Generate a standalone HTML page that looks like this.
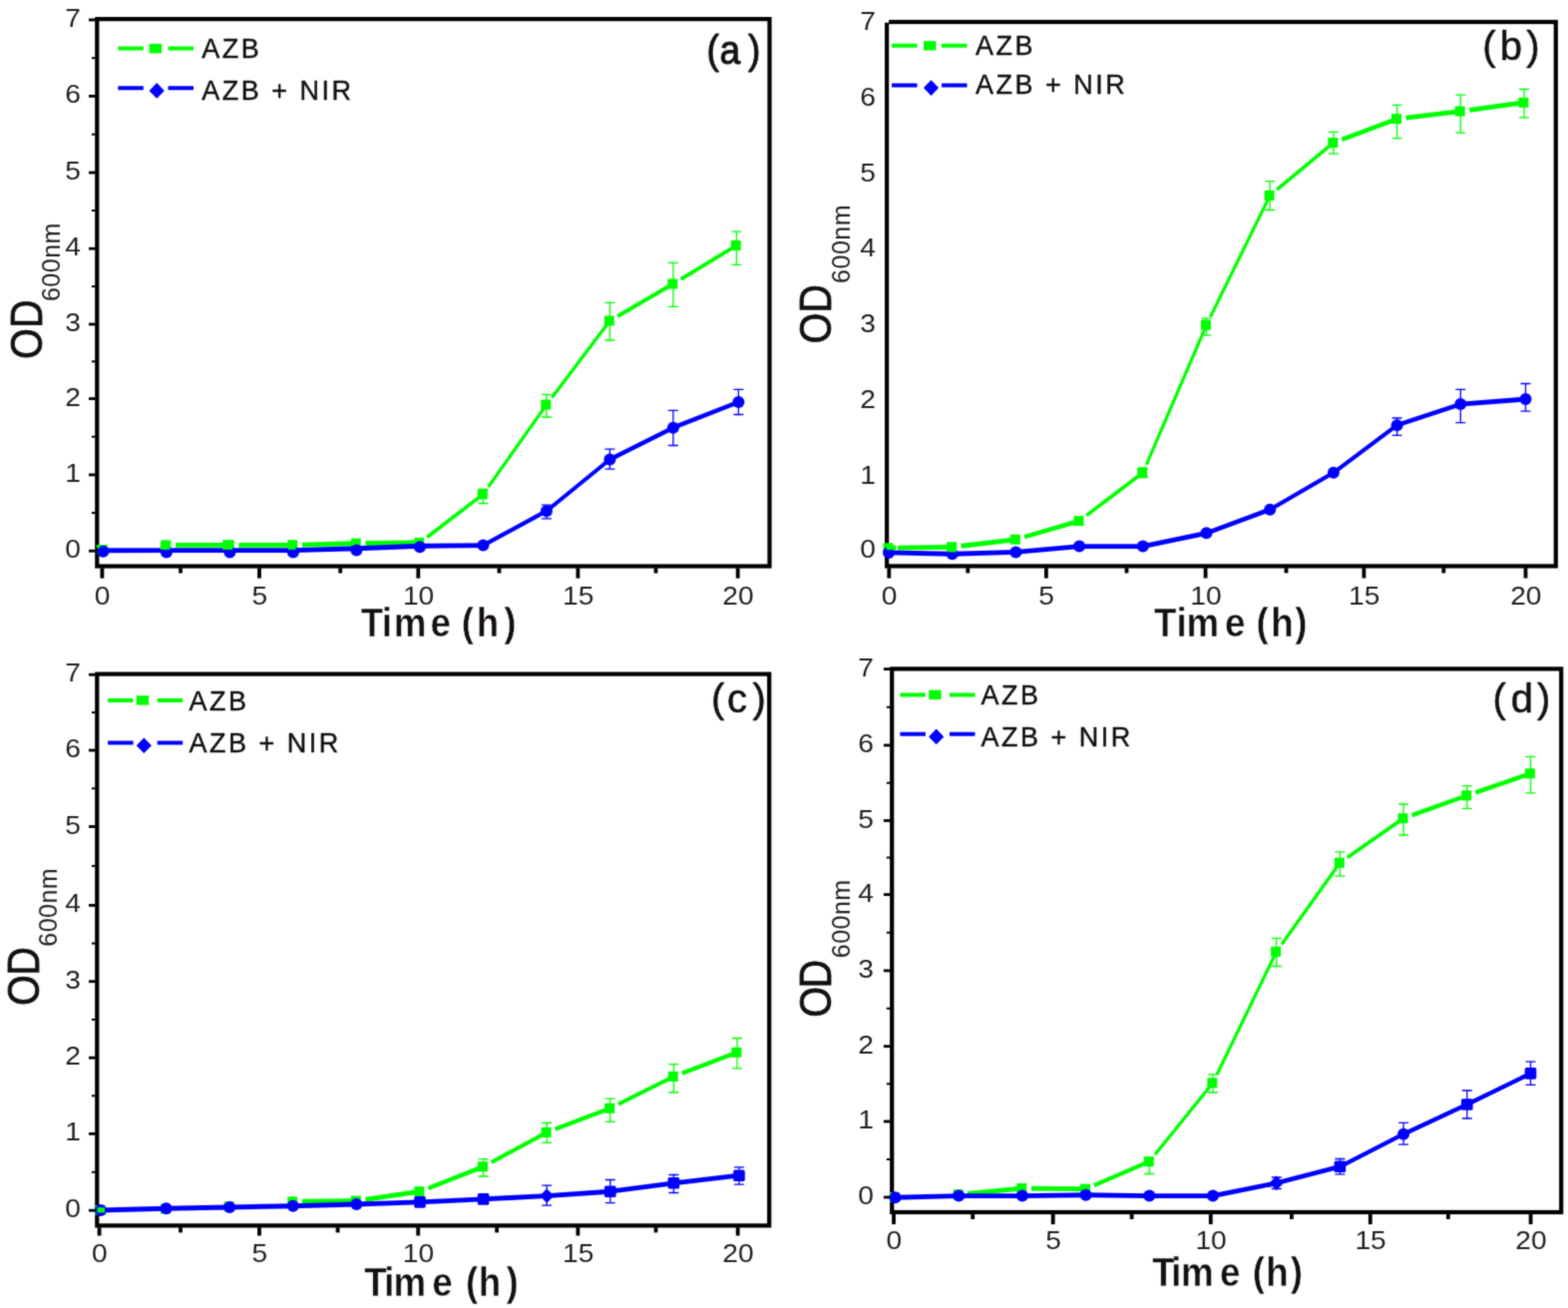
<!DOCTYPE html>
<html lang="en"><head><meta charset="utf-8">
<title>Growth curves: AZB vs AZB + NIR</title>
<style>
html,body{margin:0;padding:0;background:#fff;}
body{width:1572px;height:1311px;overflow:hidden;}
svg{display:block;font-family:"Liberation Sans", sans-serif;}
</style></head><body>
<svg width="1572" height="1311" viewBox="0 0 1572 1311" role="img" aria-label="Growth curves (OD600nm versus time) for AZB and AZB + NIR, panels a to d">
<defs><filter id="soft" x="0" y="0" width="1572" height="1311" filterUnits="userSpaceOnUse" color-interpolation-filters="sRGB"><feConvolveMatrix order="3" kernelMatrix="0.0625 0.25 0.0625 0.25 1 0.25 0.0625 0.25 0.0625" divisor="2.25" edgeMode="duplicate" preserveAlpha="true"/></filter></defs>
<g filter="url(#soft)">
<rect width="1572" height="1311" fill="#fff"/>
<g id="panel-a">
<rect class="frame" x="97.3" y="19.1" width="674.2" height="548.4" fill="none" stroke="#000" stroke-width="4.2"/>
<g class="series-g" stroke="#00ff00" fill="#00ff00">
<path d="M484.4 490.3V504.5M479.4 490.3H489.4M479.4 504.5H489.4M547.9 395.4V418M542.9 395.4H552.9M542.9 418H552.9M611.4 303.3V341M606.4 303.3H616.4M606.4 341H616.4M674.9 263.3V307.4M669.9 263.3H679.9M669.9 307.4H679.9M738.4 232.1V265.4M733.4 232.1H743.4M733.4 265.4H743.4" fill="none" stroke-width="1.3"/>
<path d="M175.9 546.4L225.4 546.4" fill="none" stroke-width="4.9"/>
<path d="M239.4 546.4L288.9 546.4" fill="none" stroke-width="4.9"/>
<path d="M302.9 546.14L352.4 544.74" fill="none" stroke-width="4.9"/>
<path d="M366.4 544.5L415.9 543.96" fill="none" stroke-width="4.9"/>
<path d="M428.05 538.44L480.43 498.43" fill="none" stroke-width="3.63"/>
<path d="M489.6 488.05L545.01 409.68" fill="none" stroke-width="3.26"/>
<path d="M553.32 398.42L608.39 325.49" fill="none" stroke-width="3.28"/>
<path d="M619.18 316.97L670.58 287.02" fill="none" stroke-width="3.91"/>
<path d="M682.6 279.83L734.12 248.59" fill="none" stroke-width="3.86"/>
<rect x="97.8" y="546" width="10" height="10" stroke="none"/>
<rect x="161.3" y="541.4" width="10" height="10" stroke="none"/>
<rect x="224.8" y="541.4" width="10" height="10" stroke="none"/>
<rect x="288.3" y="541.4" width="10" height="10" stroke="none"/>
<rect x="351.8" y="539.6" width="10" height="10" stroke="none"/>
<rect x="415.3" y="538.9" width="10" height="10" stroke="none"/>
<rect x="478.8" y="490.4" width="10" height="10" stroke="none"/>
<rect x="542.3" y="400.6" width="10" height="10" stroke="none"/>
<rect x="605.8" y="316.5" width="10" height="10" stroke="none"/>
<rect x="669.3" y="279.5" width="10" height="10" stroke="none"/>
<rect x="732.8" y="241" width="10" height="10" stroke="none"/>
</g>
<g class="series-b" stroke="#0000ff" fill="#0000ff">
<path d="M547.9 506.1V519.8M542.9 506.1H552.9M542.9 519.8H552.9M611.4 450.1V470.2M606.4 450.1H616.4M606.4 470.2H616.4M674.9 411.4V446.5M669.9 411.4H679.9M669.9 446.5H679.9M740.4 390.3V415.5M735.4 390.3H745.4M735.4 415.5H745.4" fill="none" stroke-width="1.3"/>
<path d="M103.4 551.8L166.9 551.6" fill="none" stroke-width="4.9"/>
<path d="M166.9 551.6L230.4 551.6" fill="none" stroke-width="4.9"/>
<path d="M230.4 551.6L293.9 551.6" fill="none" stroke-width="4.9"/>
<path d="M293.9 551.6L357.4 549.8" fill="none" stroke-width="4.9"/>
<path d="M357.4 549.8L420.9 547.2" fill="none" stroke-width="4.89"/>
<path d="M420.9 547.2L484.4 546.6" fill="none" stroke-width="4.9"/>
<path d="M484.4 546.6L547.9 512.2" fill="none" stroke-width="4.25"/>
<path d="M547.9 512.2L611.4 460.5" fill="none" stroke-width="3.96"/>
<path d="M611.4 460.5L674.9 428.7" fill="none" stroke-width="4.31"/>
<path d="M674.9 428.7L740.4 403" fill="none" stroke-width="4.48"/>
<circle cx="103.4" cy="552.8" r="6" stroke="none"/>
<circle cx="166.9" cy="553.6" r="6" stroke="none"/>
<circle cx="230.4" cy="553.6" r="6" stroke="none"/>
<circle cx="293.9" cy="553.6" r="6" stroke="none"/>
<circle cx="357.4" cy="551.6" r="6" stroke="none"/>
<circle cx="420.9" cy="548.2" r="6" stroke="none"/>
<circle cx="484.4" cy="546.6" r="6" stroke="none"/>
<circle cx="547.9" cy="512.2" r="6" stroke="none"/>
<circle cx="611.4" cy="460.5" r="6" stroke="none"/>
<circle cx="674.9" cy="428.7" r="6" stroke="none"/>
<circle cx="740.4" cy="403" r="6" stroke="none"/>
</g>
<rect x="160.8" y="543.9" width="9.6" height="7" fill="#00ff00"/>
<rect x="223.2" y="541.3" width="10.1" height="9.6" fill="#00ff00"/>
<rect x="288.7" y="541.3" width="7.8" height="9.6" fill="#00ff00"/>
<rect x="96.9" y="546" width="3" height="3.2" fill="#00ff00"/>
<g class="ticks" fill="#000"><rect x="89" y="550.8" width="6.6" height="2.8"/><rect x="91.9" y="513.05" width="3.6" height="2"/><rect x="89" y="474.5" width="6.6" height="2.8"/><rect x="91.9" y="436.75" width="3.6" height="2"/><rect x="89" y="398.2" width="6.6" height="2.8"/><rect x="91.9" y="361.3" width="3.6" height="2"/><rect x="89" y="323.6" width="6.6" height="2.8"/><rect x="91.9" y="286.1" width="3.6" height="2"/><rect x="89" y="247.8" width="6.6" height="2.8"/><rect x="91.9" y="210.1" width="3.6" height="2"/><rect x="89" y="171.6" width="6.6" height="2.8"/><rect x="91.9" y="133.7" width="3.6" height="2"/><rect x="89" y="95" width="6.6" height="2.8"/><rect x="91.9" y="57.15" width="3.6" height="2"/><rect x="89" y="18.5" width="6.6" height="2.8"/><rect x="100.5" y="569.3" width="3.8" height="10.3"/><rect x="179.1" y="569.3" width="3.8" height="5.2"/><rect x="258.1" y="569.3" width="3.8" height="10.3"/><rect x="339.3" y="569.3" width="3.8" height="5.2"/><rect x="417.4" y="569.3" width="3.8" height="10.3"/><rect x="498.6" y="569.3" width="3.8" height="5.2"/><rect x="577.5" y="569.3" width="3.8" height="10.3"/><rect x="655.6" y="569.3" width="3.8" height="5.2"/><rect x="737.8" y="569.3" width="3.8" height="10.3"/></g>
<g class="ticklabels" font-size="25.6" fill="#241d1d">
<text transform="translate(81 559.2) scale(1.1 1)" text-anchor="end">0</text>
<text transform="translate(81 482.9) scale(1.1 1)" text-anchor="end">1</text>
<text transform="translate(81 406.6) scale(1.1 1)" text-anchor="end">2</text>
<text transform="translate(81 332) scale(1.1 1)" text-anchor="end">3</text>
<text transform="translate(81 256.2) scale(1.1 1)" text-anchor="end">4</text>
<text transform="translate(81 180) scale(1.1 1)" text-anchor="end">5</text>
<text transform="translate(81 103.4) scale(1.1 1)" text-anchor="end">6</text>
<text transform="translate(81 26.9) scale(1.1 1)" text-anchor="end">7</text>
<text transform="translate(102.7 605.8) scale(1.1 1)" text-anchor="middle">0</text>
<text transform="translate(260.3 605.8) scale(1.1 1)" text-anchor="middle">5</text>
<text transform="translate(419.6 605.8) scale(1.1 1)" text-anchor="middle">10</text>
<text transform="translate(579.7 605.8) scale(1.1 1)" text-anchor="middle">15</text>
<text transform="translate(740 605.8) scale(1.1 1)" text-anchor="middle">20</text>
</g>
<text class="xtitle" transform="translate(361.78 638.2) scale(0.9 1)" x="0 23.21 36.75 77.41 100.11 112.18 128.8 159.45" font-size="40.8" fill="#141010" stroke="#fff" stroke-width="0.45" stroke-linejoin="miter" font-weight="bold">Time (h)</text>
<text class="ytitle" transform="translate(41.6 360.02) rotate(-90) scale(0.91 1)" x="0 33.97" font-size="43.6" fill="#141010" stroke="#141010" stroke-width="0.8" stroke-linejoin="round">OD</text>
<text class="ysub" transform="translate(59.9 302.07) rotate(-90)" font-size="25" letter-spacing="0.5" fill="#241d1d">600nm</text>
<text class="plabel" transform="translate(708.51 63.7) scale(0.93 1)" x="0 13.93 44.67" font-size="40" fill="#141010" stroke="#141010" stroke-width="1" stroke-linejoin="round">(a)</text>
<g class="legend" stroke-width="0.4">
<path d="M118.3 48.6H143.8M168.5 48.6H194" stroke="#00ff00" stroke-width="4" fill="none"/>
<rect x="149.7" y="43.9" width="12.4" height="9.4" fill="#00ff00"/>
<path d="M118.3 88.3H143.8M168.5 88.3H194" stroke="#0000ff" stroke-width="4" fill="none"/>
<path d="M149.6 90.9L157.2 83.1L164.8 90.9L157.2 98.7Z" fill="#0000ff"/>
<text x="202.3" y="57.8" font-size="27" letter-spacing="2.5" fill="#141010" stroke="#141010">AZB</text>
<text x="202.3" y="100.4" font-size="27" letter-spacing="2.5" fill="#141010" stroke="#141010">AZB + NIR</text>
</g>
</g>
<g id="panel-b">
<rect class="frame" x="889.1" y="22" width="670.7" height="545.4" fill="none" stroke="#000" stroke-width="4.2"/>
<rect x="886.4" y="19.3" width="4.7" height="3.4" fill="#fff"/>
<g class="series-g" stroke="#00ff00" fill="#00ff00">
<path d="M1145.8 469V478.5M1140.8 469H1150.8M1140.8 478.5H1150.8M1209.5 319.1V335.9M1204.5 319.1H1214.5M1204.5 335.9H1214.5M1273.2 181.7V210.5M1268.2 181.7H1278.2M1268.2 210.5H1278.2M1336.9 132.3V154.2M1331.9 132.3H1341.9M1331.9 154.2H1341.9M1400.6 105.3V138.7M1395.6 105.3H1405.6M1395.6 138.7H1405.6M1464.3 95.2V133.1M1459.3 95.2H1469.3M1459.3 133.1H1469.3M1528 89.5V117.8M1523 89.5H1533M1523 117.8H1533" fill="none" stroke-width="1.3"/>
<path d="M900 549.16L949.7 548.38" fill="none" stroke-width="4.9"/>
<path d="M963.64 547.23L1013.44 541.29" fill="none" stroke-width="4.83"/>
<path d="M1027.04 538.18L1077.3 523.5" fill="none" stroke-width="4.53"/>
<path d="M1089.27 516.66L1141.82 476.82" fill="none" stroke-width="3.64"/>
<path d="M1149.36 465.53L1207.52 330.29" fill="none" stroke-width="3.21"/>
<path d="M1213.47 317.62L1271 200.39" fill="none" stroke-width="3.21"/>
<path d="M1280.12 190.15L1333.05 146.19" fill="none" stroke-width="3.55"/>
<path d="M1345.33 139.84L1395.92 120.86" fill="none" stroke-width="4.35"/>
<path d="M1409.54 118.03L1459.34 112.09" fill="none" stroke-width="4.83"/>
<path d="M1473.22 110.28L1523.05 103.48" fill="none" stroke-width="4.81"/>
<rect x="885.4" y="544.3" width="10" height="10" stroke="none"/>
<rect x="949.1" y="543.3" width="10" height="10" stroke="none"/>
<rect x="1012.8" y="535.7" width="10" height="10" stroke="none"/>
<rect x="1076.5" y="517.1" width="10" height="10" stroke="none"/>
<rect x="1140.2" y="468.8" width="10" height="10" stroke="none"/>
<rect x="1203.9" y="320.7" width="10" height="10" stroke="none"/>
<rect x="1267.6" y="190.9" width="10" height="10" stroke="none"/>
<rect x="1331.3" y="138" width="10" height="10" stroke="none"/>
<rect x="1395" y="114.1" width="10" height="10" stroke="none"/>
<rect x="1458.7" y="106.5" width="10" height="10" stroke="none"/>
<rect x="1522.4" y="97.8" width="10" height="10" stroke="none"/>
</g>
<g class="series-b" stroke="#0000ff" fill="#0000ff">
<path d="M1400.6 419V436.4M1395.6 419H1405.6M1395.6 436.4H1405.6M1464.3 390.3V423.6M1459.3 390.3H1469.3M1459.3 423.6H1469.3M1529.5 384.5V412.2M1524.5 384.5H1534.5M1524.5 412.2H1534.5" fill="none" stroke-width="1.3"/>
<path d="M891 553.9L954.7 555.2" fill="none" stroke-width="4.9"/>
<path d="M954.7 555.2L1018.4 553.4" fill="none" stroke-width="4.9"/>
<path d="M1018.4 553.4L1082.1 547.6" fill="none" stroke-width="4.87"/>
<path d="M1082.1 547.6L1145.8 547.6" fill="none" stroke-width="4.9"/>
<path d="M1145.8 547.6L1209.5 534.3" fill="none" stroke-width="4.76"/>
<path d="M1209.5 534.3L1273.2 510.7" fill="none" stroke-width="4.52"/>
<path d="M1273.2 510.7L1336.9 473.8" fill="none" stroke-width="4.2"/>
<path d="M1336.9 473.8L1400.6 426.2" fill="none" stroke-width="4.02"/>
<path d="M1400.6 426.2L1464.3 405.1" fill="none" stroke-width="4.58"/>
<path d="M1464.3 405.1L1529.5 400" fill="none" stroke-width="4.88"/>
<circle cx="891" cy="553.9" r="6" stroke="none"/>
<circle cx="954.7" cy="555.2" r="6" stroke="none"/>
<circle cx="1018.4" cy="553.4" r="6" stroke="none"/>
<circle cx="1082.1" cy="547.6" r="6" stroke="none"/>
<circle cx="1145.8" cy="547.6" r="6" stroke="none"/>
<circle cx="1209.5" cy="534.3" r="6" stroke="none"/>
<circle cx="1273.2" cy="510.7" r="6" stroke="none"/>
<circle cx="1336.9" cy="473.8" r="6" stroke="none"/>
<circle cx="1400.6" cy="426.2" r="6" stroke="none"/>
<circle cx="1464.3" cy="405.1" r="6" stroke="none"/>
<circle cx="1529.5" cy="400" r="6" stroke="none"/>
</g>
<rect x="889" y="546.6" width="9.4" height="4.6" fill="#00ff00"/>
<rect x="949.5" y="543.9" width="9.5" height="9.5" fill="#00ff00"/>
<g class="ticks" fill="#000"><rect x="889.4" y="569.2" width="3.8" height="10.3"/><rect x="968.4" y="569.2" width="3.8" height="5.2"/><rect x="1047" y="569.2" width="3.8" height="10.3"/><rect x="1127.6" y="569.2" width="3.8" height="5.2"/><rect x="1206.7" y="569.2" width="3.8" height="10.3"/><rect x="1287.6" y="569.2" width="3.8" height="5.2"/><rect x="1365.5" y="569.2" width="3.8" height="10.3"/><rect x="1445.4" y="569.2" width="3.8" height="5.2"/><rect x="1527.6" y="569.2" width="3.8" height="10.3"/></g>
<g class="ticklabels" font-size="25.6" fill="#241d1d">
<text transform="translate(877.9 559.2) scale(1.1 1)" text-anchor="end">0</text>
<text transform="translate(877.9 485.4) scale(1.1 1)" text-anchor="end">1</text>
<text transform="translate(877.9 409.3) scale(1.1 1)" text-anchor="end">2</text>
<text transform="translate(877.9 333) scale(1.1 1)" text-anchor="end">3</text>
<text transform="translate(877.9 256.6) scale(1.1 1)" text-anchor="end">4</text>
<text transform="translate(877.9 182.1) scale(1.1 1)" text-anchor="end">5</text>
<text transform="translate(877.9 106.3) scale(1.1 1)" text-anchor="end">6</text>
<text transform="translate(877.9 30.3) scale(1.1 1)" text-anchor="end">7</text>
<text transform="translate(891.6 605.8) scale(1.1 1)" text-anchor="middle">0</text>
<text transform="translate(1049.2 605.8) scale(1.1 1)" text-anchor="middle">5</text>
<text transform="translate(1208.9 605.8) scale(1.1 1)" text-anchor="middle">10</text>
<text transform="translate(1367.7 605.8) scale(1.1 1)" text-anchor="middle">15</text>
<text transform="translate(1529.8 605.8) scale(1.1 1)" text-anchor="middle">20</text>
</g>
<text class="xtitle" transform="translate(1157.08 638.2) scale(0.9 1)" x="0 24.88 35.97 78.75 101.44 113.85 130.3 156.84" font-size="40.8" fill="#141010" stroke="#fff" stroke-width="0.45" stroke-linejoin="miter" font-weight="bold">Time (h)</text>
<text class="ytitle" transform="translate(833.1 344.62) rotate(-90) scale(0.91 1)" x="0 33.97" font-size="43.6" fill="#141010" stroke="#141010" stroke-width="0.8" stroke-linejoin="round">OD</text>
<text class="ysub" transform="translate(852 283.88) rotate(-90)" font-size="25" letter-spacing="0.5" fill="#241d1d">600nm</text>
<text class="plabel" transform="translate(1486.32 60.2) scale(1 1)" x="0 17.51 44.05" font-size="40" fill="#141010" stroke="#141010" stroke-width="0.5" stroke-linejoin="round">(b)</text>
<g class="legend" stroke-width="0.4">
<path d="M894 45.8H919.5M944 45.8H969.5" stroke="#00ff00" stroke-width="4" fill="none"/>
<rect x="926" y="41.1" width="12.4" height="9.4" fill="#00ff00"/>
<path d="M894 85.5H919.5M944 85.5H969.5" stroke="#0000ff" stroke-width="4" fill="none"/>
<path d="M925.9 88.1L933.5 80.3L941.1 88.1L933.5 95.9Z" fill="#0000ff"/>
<text x="978" y="55" font-size="27" letter-spacing="2.5" fill="#141010" stroke="#141010">AZB</text>
<text x="978" y="94" font-size="27" letter-spacing="2.5" fill="#141010" stroke="#141010">AZB + NIR</text>
</g>
</g>
<g id="panel-c">
<rect class="frame" x="97.3" y="675.6" width="673.9" height="552.8" fill="none" stroke="#000" stroke-width="4.2"/>
<g class="series-g" stroke="#00ff00" fill="#00ff00">
<path d="M484.6 1161.7V1179M479.6 1161.7H489.6M479.6 1179H489.6M548.2 1125.5V1145.4M543.2 1125.5H553.2M543.2 1145.4H553.2M611.8 1101.1V1124.3M606.8 1101.1H616.8M606.8 1124.3H616.8M675.4 1066.7V1095M670.4 1066.7H680.4M670.4 1095H680.4M739 1040.5V1070.8M734 1040.5H744M734 1070.8H744" fill="none" stroke-width="1.3"/>
<path d="M302.8 1204.29L352.4 1203.66" fill="none" stroke-width="4.9"/>
<path d="M366.3 1202.28L416.05 1194.93" fill="none" stroke-width="4.79"/>
<path d="M429.38 1190.92L479.94 1171.12" fill="none" stroke-width="4.31"/>
<path d="M492.52 1165.03L543.8 1137.37" fill="none" stroke-width="3.99"/>
<path d="M556.61 1131.8L607.13 1112.58" fill="none" stroke-width="4.33"/>
<path d="M619.85 1106.78L670.93 1081.24" fill="none" stroke-width="4.07"/>
<path d="M683.81 1075.8L734.33 1056.58" fill="none" stroke-width="4.33"/>
<rect x="95.4" y="1208" width="10" height="10" stroke="none"/>
<rect x="161" y="1206.6" width="10" height="10" stroke="none"/>
<rect x="224.6" y="1204.4" width="10" height="10" stroke="none"/>
<rect x="288.2" y="1199.4" width="10" height="10" stroke="none"/>
<rect x="351.8" y="1198.6" width="10" height="10" stroke="none"/>
<rect x="415.4" y="1189.2" width="10" height="10" stroke="none"/>
<rect x="479" y="1164.3" width="10" height="10" stroke="none"/>
<rect x="542.6" y="1130" width="10" height="10" stroke="none"/>
<rect x="606.2" y="1105.8" width="10" height="10" stroke="none"/>
<rect x="669.8" y="1074" width="10" height="10" stroke="none"/>
<rect x="733.4" y="1049.8" width="10" height="10" stroke="none"/>
</g>
<g class="series-b" stroke="#0000ff" fill="#0000ff">
<path d="M548.2 1188.1V1208.2M543.2 1188.1H553.2M543.2 1208.2H553.2M611.8 1182.5V1205.7M606.8 1182.5H616.8M606.8 1205.7H616.8M675.4 1177.5V1195.5M670.4 1177.5H680.4M670.4 1195.5H680.4M741 1169.8V1187.1M736 1169.8H746M736 1187.1H746" fill="none" stroke-width="1.3"/>
<path d="M101 1213L166.6 1211.3" fill="none" stroke-width="4.9"/>
<path d="M166.6 1211.3L230.2 1210" fill="none" stroke-width="4.9"/>
<path d="M230.2 1210L293.8 1208.7" fill="none" stroke-width="4.9"/>
<path d="M293.8 1208.7L357.4 1207" fill="none" stroke-width="4.9"/>
<path d="M357.4 1207L421 1204.9" fill="none" stroke-width="4.9"/>
<path d="M421 1204.9L484.6 1201.9" fill="none" stroke-width="4.89"/>
<path d="M484.6 1201.9L548.2 1198.6" fill="none" stroke-width="4.89"/>
<path d="M548.2 1198.6L611.8 1194.2" fill="none" stroke-width="4.88"/>
<path d="M611.8 1194.2L675.4 1185.8" fill="none" stroke-width="4.84"/>
<path d="M675.4 1185.8L741 1178.2" fill="none" stroke-width="4.85"/>
<circle cx="101" cy="1213" r="6" stroke="none"/>
<circle cx="166.6" cy="1211.3" r="6" stroke="none"/>
<circle cx="230.2" cy="1210" r="6" stroke="none"/>
<circle cx="293.8" cy="1208.7" r="6" stroke="none"/>
<circle cx="357.4" cy="1207" r="6" stroke="none"/>
<rect x="415.2" y="1199.1" width="11.6" height="11.6" rx="1.6" stroke="none"/>
<rect x="478.8" y="1196.1" width="11.6" height="11.6" rx="1.6" stroke="none"/>
<path d="M541 1198.6L548.2 1191.4L555.4 1198.6L548.2 1205.8Z" stroke="none"/>
<rect x="606" y="1188.4" width="11.6" height="11.6" rx="1.6" stroke="none"/>
<rect x="669.6" y="1180" width="11.6" height="11.6" rx="1.6" stroke="none"/>
<rect x="735.2" y="1172.4" width="11.6" height="11.6" rx="1.6" stroke="none"/>
</g>
<rect x="97.5" y="1210.2" width="7.5" height="5.2" fill="#00ff00"/>
<g class="ticks" fill="#000"><rect x="89" y="1211.8" width="6.6" height="2.8"/><rect x="91.9" y="1173.8" width="3.6" height="2"/><rect x="89" y="1135" width="6.6" height="2.8"/><rect x="91.9" y="1097.3" width="3.6" height="2"/><rect x="89" y="1058.8" width="6.6" height="2.8"/><rect x="91.9" y="1020.95" width="3.6" height="2"/><rect x="89" y="982.3" width="6.6" height="2.8"/><rect x="91.9" y="944.55" width="3.6" height="2"/><rect x="89" y="906" width="6.6" height="2.8"/><rect x="91.9" y="866.95" width="3.6" height="2"/><rect x="89" y="827.1" width="6.6" height="2.8"/><rect x="91.9" y="789.25" width="3.6" height="2"/><rect x="89" y="750.6" width="6.6" height="2.8"/><rect x="91.9" y="713.1" width="3.6" height="2"/><rect x="89" y="674.8" width="6.6" height="2.8"/><rect x="97.7" y="1230.2" width="3.8" height="8.3"/><rect x="179.1" y="1230.2" width="3.8" height="5.2"/><rect x="258.1" y="1230.2" width="3.8" height="8.3"/><rect x="336.7" y="1230.2" width="3.8" height="5.2"/><rect x="417.3" y="1230.2" width="3.8" height="8.3"/><rect x="496.2" y="1230.2" width="3.8" height="5.2"/><rect x="577.5" y="1230.2" width="3.8" height="8.3"/><rect x="655.6" y="1230.2" width="3.8" height="5.2"/><rect x="737.8" y="1230.2" width="3.8" height="8.3"/></g>
<g class="ticklabels" font-size="25.6" fill="#241d1d">
<text transform="translate(81 1220.2) scale(1.1 1)" text-anchor="end">0</text>
<text transform="translate(81 1143.4) scale(1.1 1)" text-anchor="end">1</text>
<text transform="translate(81 1067.2) scale(1.1 1)" text-anchor="end">2</text>
<text transform="translate(81 990.7) scale(1.1 1)" text-anchor="end">3</text>
<text transform="translate(81 914.4) scale(1.1 1)" text-anchor="end">4</text>
<text transform="translate(81 835.5) scale(1.1 1)" text-anchor="end">5</text>
<text transform="translate(81 759) scale(1.1 1)" text-anchor="end">6</text>
<text transform="translate(81 683.2) scale(1.1 1)" text-anchor="end">7</text>
<text transform="translate(99.9 1265) scale(1.1 1)" text-anchor="middle">0</text>
<text transform="translate(260.3 1265) scale(1.1 1)" text-anchor="middle">5</text>
<text transform="translate(419.5 1265) scale(1.1 1)" text-anchor="middle">10</text>
<text transform="translate(579.7 1265) scale(1.1 1)" text-anchor="middle">15</text>
<text transform="translate(740 1265) scale(1.1 1)" text-anchor="middle">20</text>
</g>
<text class="xtitle" transform="translate(365.28 1299.4) scale(0.9 1)" x="0 22.16 32.53 75.64 98.33 112.9 127.18 158.01" font-size="40.8" fill="#141010" stroke="#fff" stroke-width="0.45" stroke-linejoin="miter" font-weight="bold">Time (h)</text>
<text class="ytitle" transform="translate(39.1 1008.07) rotate(-90) scale(0.91 1)" x="0 33.37" font-size="43.6" fill="#141010" stroke="#141010" stroke-width="0.8" stroke-linejoin="round">OD</text>
<text class="ysub" transform="translate(57.4 948.77) rotate(-90)" font-size="25" letter-spacing="0.5" fill="#241d1d">600nm</text>
<text class="plabel" transform="translate(712.92 714.1) scale(1 1)" x="0 16.06 41.65" font-size="40" fill="#141010" stroke="#141010" stroke-width="0.5" stroke-linejoin="round">(c)</text>
<g class="legend" stroke-width="0.4">
<path d="M108.1 701.9H133.6M157.7 701.9H183.2" stroke="#00ff00" stroke-width="4" fill="none"/>
<rect x="136.8" y="697.2" width="12.4" height="9.4" fill="#00ff00"/>
<path d="M108.1 744.6H133.6M157.7 744.6H183.2" stroke="#0000ff" stroke-width="4" fill="none"/>
<path d="M136.7 747.2L144.3 739.4L151.9 747.2L144.3 755Z" fill="#0000ff"/>
<text x="189.6" y="711.5" font-size="27" letter-spacing="2.5" fill="#141010" stroke="#141010">AZB</text>
<text x="189.6" y="754" font-size="27" letter-spacing="2.5" fill="#141010" stroke="#141010">AZB + NIR</text>
</g>
</g>
<g id="panel-d">
<rect class="frame" x="894.2" y="670.4" width="671" height="544.6" fill="none" stroke="#000" stroke-width="4.2"/>
<g class="series-g" stroke="#00ff00" fill="#00ff00">
<path d="M1152.3 1161.5V1176.5M1147.3 1161.5H1157.3M1147.3 1176.5H1157.3M1216 1076.9V1095M1211 1076.9H1221M1211 1095H1221M1279.7 940.3V968.5M1274.7 940.3H1284.7M1274.7 968.5H1284.7M1343.4 853.8V878.2M1338.4 853.8H1348.4M1338.4 878.2H1348.4M1407.1 806V837M1402.1 806H1412.1M1402.1 837H1412.1M1470.8 787.6V810.3M1465.8 787.6H1475.8M1465.8 810.3H1475.8M1534.5 758.4V794.8M1529.5 758.4H1539.5M1529.5 794.8H1539.5" fill="none" stroke-width="1.3"/>
<path d="M970.16 1196.33L1019.92 1191.48" fill="none" stroke-width="4.85"/>
<path d="M1033.9 1191.1L1083.6 1191.65" fill="none" stroke-width="4.9"/>
<path d="M1096.86 1188.13L1147.71 1166.18" fill="none" stroke-width="4.22"/>
<path d="M1157.95 1157.2L1212.86 1089.19" fill="none" stroke-width="3.3"/>
<path d="M1219.92 1077.2L1277.52 958.3" fill="none" stroke-width="3.21"/>
<path d="M1284.93 946.48L1340.49 868.77" fill="none" stroke-width="3.27"/>
<path d="M1350.78 859.55L1403 823.06" fill="none" stroke-width="3.72"/>
<path d="M1415.57 817.16L1466.09 798.99" fill="none" stroke-width="4.38"/>
<path d="M1479.3 794.35L1529.78 776.84" fill="none" stroke-width="4.41"/>
<rect x="891.9" y="1195" width="10" height="10" stroke="none"/>
<rect x="955.6" y="1192.2" width="10" height="10" stroke="none"/>
<rect x="1019.3" y="1186" width="10" height="10" stroke="none"/>
<rect x="1083" y="1186.7" width="10" height="10" stroke="none"/>
<rect x="1146.7" y="1159.2" width="10" height="10" stroke="none"/>
<rect x="1210.4" y="1080.3" width="10" height="10" stroke="none"/>
<rect x="1274.1" y="948.8" width="10" height="10" stroke="none"/>
<rect x="1337.8" y="859.7" width="10" height="10" stroke="none"/>
<rect x="1401.5" y="815.2" width="10" height="10" stroke="none"/>
<rect x="1465.2" y="792.3" width="10" height="10" stroke="none"/>
<rect x="1528.9" y="770.2" width="10" height="10" stroke="none"/>
</g>
<g class="series-b" stroke="#0000ff" fill="#0000ff">
<path d="M1279.7 1180V1191.5M1274.7 1180H1284.7M1274.7 1191.5H1284.7M1343.4 1161.5V1176.9M1338.4 1161.5H1348.4M1338.4 1176.9H1348.4M1407.1 1125.3V1147.2M1402.1 1125.3H1412.1M1402.1 1147.2H1412.1M1470.8 1093V1121M1465.8 1093H1475.8M1465.8 1121H1475.8M1534.5 1064.2V1087.4M1529.5 1064.2H1539.5M1529.5 1087.4H1539.5" fill="none" stroke-width="1.3"/>
<path d="M897.5 1200.3L961.2 1198.6" fill="none" stroke-width="4.9"/>
<path d="M961.2 1198.6L1024.9 1198.6" fill="none" stroke-width="4.9"/>
<path d="M1024.9 1198.6L1088.6 1197.8" fill="none" stroke-width="4.9"/>
<path d="M1088.6 1197.8L1152.3 1198.6" fill="none" stroke-width="4.9"/>
<path d="M1152.3 1198.6L1216 1198.6" fill="none" stroke-width="4.9"/>
<path d="M1216 1198.6L1279.7 1185.8" fill="none" stroke-width="4.77"/>
<path d="M1279.7 1185.8L1343.4 1169.3" fill="none" stroke-width="4.69"/>
<path d="M1343.4 1169.3L1407.1 1136.7" fill="none" stroke-width="4.3"/>
<path d="M1407.1 1136.7L1470.8 1107" fill="none" stroke-width="4.37"/>
<path d="M1470.8 1107L1534.5 1075.9" fill="none" stroke-width="4.33"/>
<circle cx="897.5" cy="1200.3" r="6" stroke="none"/>
<circle cx="961.2" cy="1198.6" r="6" stroke="none"/>
<circle cx="1024.9" cy="1198.6" r="6" stroke="none"/>
<circle cx="1088.6" cy="1197.8" r="6" stroke="none"/>
<circle cx="1152.3" cy="1198.6" r="6" stroke="none"/>
<circle cx="1216" cy="1198.6" r="6" stroke="none"/>
<path d="M1272.5 1185.8L1279.7 1178.6L1286.9 1185.8L1279.7 1193Z" stroke="none"/>
<rect x="1337.6" y="1163.5" width="11.6" height="11.6" rx="1.6" stroke="none"/>
<circle cx="1407.1" cy="1136.7" r="6" stroke="none"/>
<rect x="1465" y="1101.2" width="11.6" height="11.6" rx="1.6" stroke="none"/>
<rect x="1528.7" y="1070.1" width="11.6" height="11.6" rx="1.6" stroke="none"/>
</g>
<g class="ticks" fill="#000"><rect x="885.9" y="1198.6" width="6.6" height="2.8"/><rect x="888.8" y="1161" width="3.6" height="2"/><rect x="885.9" y="1122.6" width="6.6" height="2.8"/><rect x="888.8" y="1085.35" width="3.6" height="2"/><rect x="885.9" y="1047.3" width="6.6" height="2.8"/><rect x="888.8" y="1009.8" width="3.6" height="2"/><rect x="885.9" y="971.5" width="6.6" height="2.8"/><rect x="888.8" y="933.75" width="3.6" height="2"/><rect x="885.9" y="895.2" width="6.6" height="2.8"/><rect x="888.8" y="858.55" width="3.6" height="2"/><rect x="885.9" y="821.1" width="6.6" height="2.8"/><rect x="888.8" y="783.75" width="3.6" height="2"/><rect x="885.9" y="745.6" width="6.6" height="2.8"/><rect x="888.8" y="707.8" width="3.6" height="2"/><rect x="885.9" y="669.2" width="6.6" height="2.8"/><rect x="894.1" y="1216.8" width="3.8" height="10.3"/><rect x="973.3" y="1216.8" width="3.8" height="5.2"/><rect x="1053.8" y="1216.8" width="3.8" height="10.3"/><rect x="1132.7" y="1216.8" width="3.8" height="5.2"/><rect x="1211.9" y="1216.8" width="3.8" height="10.3"/><rect x="1293" y="1216.8" width="3.8" height="5.2"/><rect x="1371.9" y="1216.8" width="3.8" height="10.3"/><rect x="1450" y="1216.8" width="3.8" height="5.2"/><rect x="1532.7" y="1216.8" width="3.8" height="10.3"/></g>
<g class="ticklabels" font-size="25.6" fill="#241d1d">
<text transform="translate(876 1207) scale(1.1 1)" text-anchor="end">0</text>
<text transform="translate(876 1131) scale(1.1 1)" text-anchor="end">1</text>
<text transform="translate(876 1055.7) scale(1.1 1)" text-anchor="end">2</text>
<text transform="translate(876 979.9) scale(1.1 1)" text-anchor="end">3</text>
<text transform="translate(876 903.6) scale(1.1 1)" text-anchor="end">4</text>
<text transform="translate(876 829.5) scale(1.1 1)" text-anchor="end">5</text>
<text transform="translate(876 754) scale(1.1 1)" text-anchor="end">6</text>
<text transform="translate(876 677.6) scale(1.1 1)" text-anchor="end">7</text>
<text transform="translate(896.3 1251.6) scale(1.1 1)" text-anchor="middle">0</text>
<text transform="translate(1056 1251.6) scale(1.1 1)" text-anchor="middle">5</text>
<text transform="translate(1214.1 1251.6) scale(1.1 1)" text-anchor="middle">10</text>
<text transform="translate(1374.1 1251.6) scale(1.1 1)" text-anchor="middle">15</text>
<text transform="translate(1534.9 1251.6) scale(1.1 1)" text-anchor="middle">20</text>
</g>
<text class="xtitle" transform="translate(1155.18 1288.6) scale(0.9 1)" x="0 21.32 32.09 75.25 97.94 111.74 126.74 154.06" font-size="40.8" fill="#141010" stroke="#fff" stroke-width="0.45" stroke-linejoin="miter" font-weight="bold">Time (h)</text>
<text class="ytitle" transform="translate(833.1 1019.82) rotate(-90) scale(0.91 1)" x="0 32.22" font-size="43.6" fill="#141010" stroke="#141010" stroke-width="0.8" stroke-linejoin="round">OD</text>
<text class="ysub" transform="translate(852 960.27) rotate(-90)" font-size="25" letter-spacing="0.5" fill="#241d1d">600nm</text>
<text class="plabel" transform="translate(1496.42 714.1) scale(1 1)" x="0 18.46 44.65" font-size="40" fill="#141010" stroke="#141010" stroke-width="0.5" stroke-linejoin="round">(d)</text>
<g class="legend" stroke-width="0.4">
<path d="M902.4 696.4H927.9M952 696.4H977.5" stroke="#00ff00" stroke-width="4" fill="none"/>
<rect x="931.2" y="691.7" width="12.4" height="9.4" fill="#00ff00"/>
<path d="M902.4 735.8H927.9M952 735.8H977.5" stroke="#0000ff" stroke-width="4" fill="none"/>
<path d="M931.1 738.4L938.7 730.6L946.3 738.4L938.7 746.2Z" fill="#0000ff"/>
<text x="983.5" y="705.9" font-size="27" letter-spacing="2.5" fill="#141010" stroke="#141010">AZB</text>
<text x="983.5" y="748" font-size="27" letter-spacing="2.5" fill="#141010" stroke="#141010">AZB + NIR</text>
</g>
</g>
</g>
</svg>
</body></html>
